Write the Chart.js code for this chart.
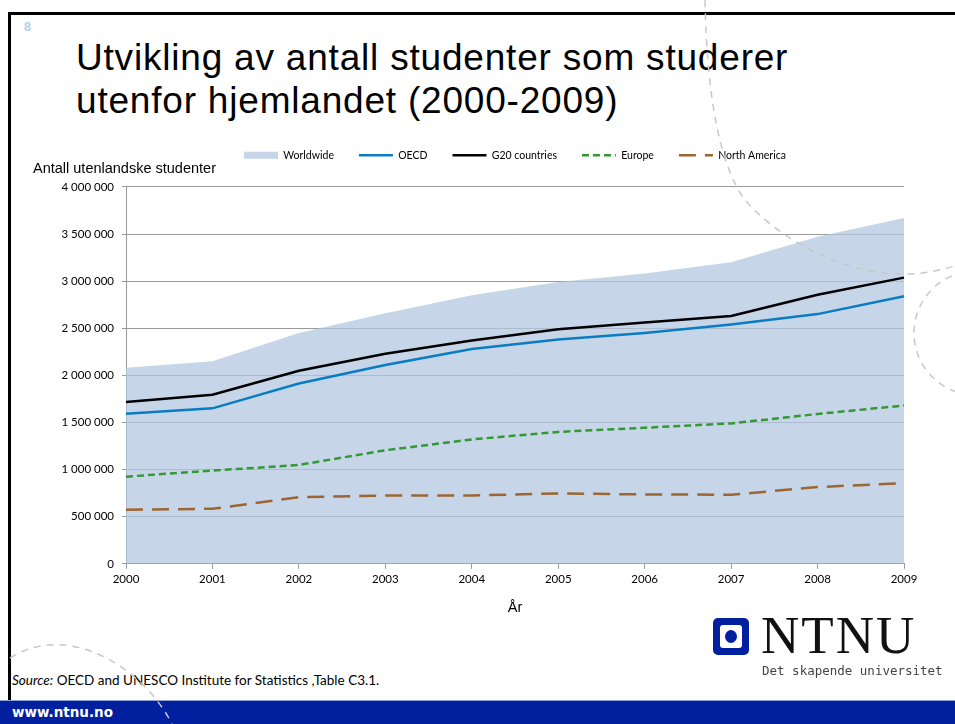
<!DOCTYPE html>
<html lang="no">
<head>
  <meta charset="UTF-8">
  <title>Utvikling av antall studenter</title>
  <script src="https://cdn.jsdelivr.net/npm/chart.js"></script>
  <style>
    body { margin: 0; width: 955px; height: 724px; position: relative; overflow: hidden; background: #fff; font-family: "Liberation Sans", Arial, sans-serif; }
    .border-top { position: absolute; left: 8px; top: 12px; width: 947px; height: 2.5px; background: #000; }
    .border-left { position: absolute; left: 8px; top: 12px; width: 2.5px; height: 688px; background: #000; }
    .slide-no { position: absolute; left: 24px; top: 20px; font: bold 12.5px "Liberation Sans", Arial, sans-serif; color: #b4cde3; }
    h1 { position: absolute; left: 76px; top: 36px; margin: 0; font: normal 37px/43px "Liberation Sans", Arial, sans-serif; letter-spacing: 0.8px; color: #000; }
    .chart-wrap { position: absolute; left: 0; top: 125px; width: 955px; height: 496px; }
    .source { position: absolute; left: 12px; top: 672px; font: 13.5px Lato, sans-serif; color: #000; }
    .footer { position: absolute; left: 0; top: 700px; width: 955px; height: 24px; background: #00209f; border-top: 1px solid #8ea2dc; }
    .footer span { position: absolute; left: 12px; top: 3px; font: bold 13.5px "DejaVu Sans", sans-serif; color: #fff; }
    .logo-box { position: absolute; left: 713px; top: 618px; width: 36px; height: 37px; background: #00209f; border-radius: 5px; }
    .logo-box div { position: absolute; left: 7px; top: 7px; width: 22px; height: 23px; background: #fff; border-radius: 3px; }
    .logo-box div div { left: 5px; top: 5px; width: 12px; height: 13px; background: #00209f; border-radius: 50%; }
    .logo-text { position: absolute; left: 761px; top: 605px; font: 53px "Liberation Serif", "Times New Roman", serif; letter-spacing: 2px; color: #111; }
    .logo-sub { position: absolute; left: 762px; top: 663px; font: 12.5px "DejaVu Sans Mono", monospace; color: #444; }
    svg.deco { position: absolute; left: 0; top: 0; pointer-events: none; }
  </style>
</head>
<body>
<div class="border-top"></div>
<div class="border-left"></div>
<div class="slide-no">8</div>
<h1>Utvikling av antall studenter som studerer<br>utenfor hjemlandet (2000-2009)</h1>

<div class="chart-wrap">
  <canvas id="chart"></canvas>
</div>

<div class="source"><i>Source:</i> OECD and UNESCO Institute for Statistics ,Table C3.1.</div>
<div class="logo-box"><div><div></div></div></div>
<div class="logo-text">NTNU</div>
<div class="logo-sub">Det skapende universitet</div>
<div class="footer"><span>www.ntnu.no</span></div>

<!-- dashed decoration curves from the slide template -->
<svg class="deco" width="955" height="724">
  <g fill="none" stroke="#c8c8c8" stroke-width="1.5" stroke-dasharray="7 6">
    <path d="M 705 0 Q 708 150, 745 200 C 775 235, 840 275, 905 274 C 925 274, 940 270, 955 266"></path>
    <circle cx="976" cy="333" r="62"></circle>
    <path d="M 10 658 C 70 620, 145 670, 172 724"></path>
  </g>
</svg>

<script>
  // data
  const years = ['2000', '2001', '2002', '2003', '2004', '2005', '2006', '2007', '2008', '2009'];
  const worldwide = [2080000, 2150000, 2450000, 2660000, 2850000, 2990000, 3080000, 3200000, 3470000, 3670000];
  const oecd = [1593000, 1650000, 1913000, 2110000, 2280000, 2380000, 2450000, 2540000, 2650000, 2840000];
  const g20 = [1717000, 1795000, 2048000, 2230000, 2370000, 2490000, 2560000, 2630000, 2855000, 3037000];
  const europe = [925000, 989000, 1049000, 1205000, 1320000, 1400000, 1444000, 1490000, 1590000, 1680000];
  const northAmerica = [573000, 584000, 707000, 725000, 725000, 747000, 736000, 733000, 814000, 857000];

  const areaColor = 'rgba(179, 200, 224, 0.75)';
  const gridColor = '#999999';

  function fmt(v) {
    return String(v).replace(/\B(?=(\d{3})+(?!\d))/g, ' ');
  }

  function lineSet(label, data, color, dash) {
    return {
      label: label,
      data: data,
      borderColor: color,
      backgroundColor: color,
      borderWidth: 2.5,
      borderDash: dash,
      pointRadius: 0,
      tension: 0,
      fill: false,
      order: 0
    };
  }

  const ctx = document.getElementById('chart').getContext('2d');
  new Chart(ctx, {
    type: 'line',
    data: {
      labels: years,
      datasets: [
        {
          label: 'Worldwide',
          data: worldwide,
          borderColor: 'rgba(0,0,0,0)',
          borderWidth: 0,
          backgroundColor: areaColor,
          pointRadius: 0,
          fill: 'origin',
          order: 10
        },
        lineSet('OECD', oecd, '#0a7cc1', []),
        lineSet('G20 countries', g20, '#000000', []),
        lineSet('Europe', europe, '#339933', [7, 4]),
        lineSet('North America', northAmerica, '#9c6531', [17, 9])
      ]
    },
    options: {
      responsive: true,
      maintainAspectRatio: false,
      animation: false,
      layout: { padding: { left: 33, right: 51, top: 0, bottom: 0 } },
      plugins: {
        tooltip: { enabled: false },
        legend: {
          position: 'top',
          fullSize: false,
          labels: {
            usePointStyle: true,
            pointStyleWidth: 34,
            boxHeight: 7,
            padding: 25,
            color: '#000',
            font: { family: 'Lato', size: 10.5 },
            sort: (a, b) => a.datasetIndex - b.datasetIndex,
            generateLabels(chart) {
              return chart.data.datasets.map((ds, i) => ({
                text: ds.label,
                datasetIndex: i,
                fillStyle: i === 0 ? areaColor : ds.borderColor,
                strokeStyle: i === 0 ? areaColor : ds.borderColor,
                lineWidth: i === 0 ? 0 : 2.5,
                lineDash: ds.borderDash || [],
                pointStyle: i === 0 ? 'rect' : 'line',
                fontColor: '#000',
                hidden: false
              }));
            }
          }
        },
        title: {
          display: true,
          text: 'Antall utenlandske studenter',
          align: 'start',
          weight: 500,
          color: '#000',
          font: { family: 'Liberation Sans', size: 14.5, weight: 'normal' },
          padding: { top: -10, bottom: 9 }
        }
      },
      scales: {
        x: {
          offset: false,
          grid: { display: true, drawOnChartArea: false, drawTicks: true, tickLength: 5, color: gridColor },
          border: { color: gridColor },
          ticks: { color: '#000', padding: 4, maxRotation: 0, font: { family: 'Lato', size: 11.5 } },
          title: {
            display: true,
            text: 'År',
            color: '#000',
            font: { family: 'Liberation Sans', size: 14.5 },
            padding: { top: 9, bottom: 4 }
          }
        },
        y: {
          min: 0,
          max: 4000000,
          afterFit(scale) { scale.width = 93; },
          grid: { color: gridColor, tickLength: 4 },
          border: { color: gridColor },
          ticks: {
            stepSize: 500000,
            padding: 8,
            color: '#000',
            font: { family: 'Lato', size: 11.5 },
            callback: (v) => fmt(v)
          }
        }
      }
    }
  });
</script>
</body>
</html>
